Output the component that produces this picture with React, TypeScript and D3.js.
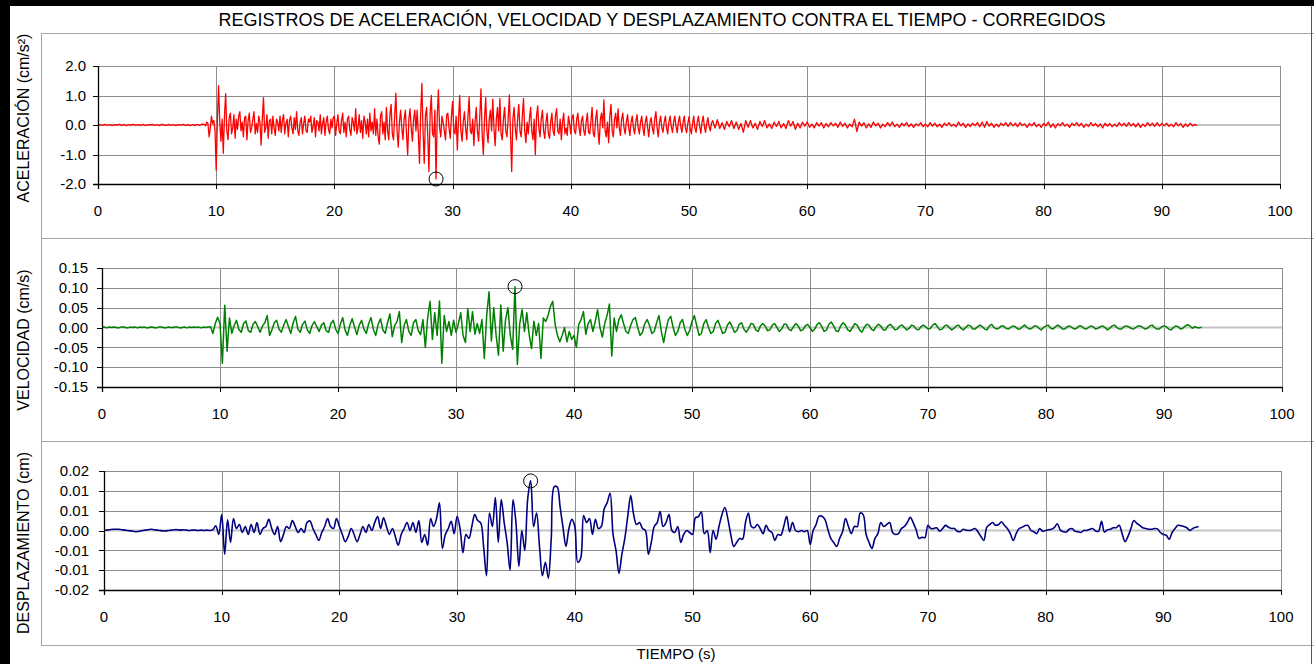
import React from 'react';
import * as d3 from 'd3';

const TITLE = 'REGISTROS DE ACELERACIÓN, VELOCIDAD Y DESPLAZAMIENTO CONTRA EL TIEMPO - CORREGIDOS';
const X_TITLE = 'TIEMPO (s)';
const X_TICKS = [0, 10, 20, 30, 40, 50, 60, 70, 80, 90, 100];
const X_TICK_LABELS = ['0', '10', '20', '30', '40', '50', '60', '70', '80', '90', '100'];

// Acceleration (cm/s²): pre-event, every 0.2 s from t = 0 s
const ACC_QUIET_T0 = 0;
const ACC_QUIET_DT = 0.2;
const accQuiet = [
  0, 0.01, -0.01, 0.02, -0.01,
  0.01, -0.02, 0.01, 0, 0.02,
  -0.01, 0.01, -0.02, 0.01, 0,
  0.02, -0.01, 0.01, -0.01, 0.02,
  -0.02, 0.01, 0, 0.02, -0.01,
  0.01, -0.02, 0.02, 0, -0.01,
  0.02, -0.01, 0.01, -0.02, 0.01,
  0, 0.02, -0.01, 0.01, -0.02,
  0.01, -0.01, 0.02, -0.01, 0.03,
];

// Acceleration (cm/s²): strong motion, every 0.1 s from t = 9 s
const ACC_STRONG_T0 = 9;
const ACC_STRONG_DT = 0.1;
const accStrong = [
  0.02, -0.03, 0.1, 0.05, -0.4, -0.1, 0.3, 0.05, 0.15, -0.2,
  -1.53, 0.2, 1.33, 0.1, -0.55, 0.2, -0.96, 0.3, 1.06, -0.2,
  -0.5, 0.25, 0.4, -0.3, -0.1, 0.35, -0.45, 0.2, -0.15, 0.3,
  0.45, -0.2, 0.1, -0.4, 0.25, 0.3, -0.5, 0.15, 0.4, -0.25,
  -0.1, 0.2, 0.45, -0.3, 0.05, -0.25, 0.3, 0.1, -0.68, 0.2,
  0.93, -0.25, -0.1, 0.35, -0.45, 0.15, 0.2, -0.3, 0.3, -0.1,
  -0.35, 0.2, 0.1, -0.2, 0.3, -0.25, 0.15, 0.35, -0.3, 0.05,
  0.2, -0.4, 0.15, 0.3, -0.1, -0.3, 0.25, -0.15, 0.45, -0.2,
  -0.35, 0.1, 0.25, -0.3, 0.05, 0.3, -0.2, -0.25, 0.2, 0.1,
  0.3, -0.25, -0.05, 0.25, -0.4, 0.15, 0.1, -0.2, 0.35, -0.3,
  0.05, 0.25, -0.35, 0.1, 0.3, -0.15, -0.3, 0.2, -0.1, 0.25,
  0.3, -0.35, 0.05, 0.35, -0.2, -0.3, 0.15, 0.4, -0.25, 0.1,
  -0.4, 0.2, 0.3, -0.15, -0.35, 0.25, 0.1, -0.2, 0.55, -0.3,
  -0.1, 0.35, -0.25, 0.15, -0.45, 0.3, 0.1, -0.3, 0.2, -0.4,
  0.4, -0.2, 0.1, -0.3, 0.55, -0.35, 0.2, -0.4, -0.65, 0.3,
  0.45, -0.3, 0.1, -0.5, 0.6, -0.2, -0.5, 0.35, 0.7, -0.3,
  -0.5, 0.3, 1.08, -0.2, -0.75, 0.1, 0.5, -0.1, -0.5, 0.2,
  0.5, -0.3, -1.02, 0.2, 0.55, -0.1, -0.55, 0.2, 0.5, -0.2,
  0.5, -0.3, -1.3, 0.4, 1.41, -0.2, -1.3, 0.3, 0.6, -0.4,
  -1.58, 0.4, 1.0, -0.3, -0.4, 0.5, -1.83, 0.3, 1.19, -0.1,
  -0.4, 0.3, 0.1, -0.2, -0.5, 0.35, 0.4, -0.1, -0.45, 0.3,
  0.8, -0.2, -0.3, 0.3, -0.85, 0.2, 1.0, -0.2, -0.55, 0.1,
  0.45, -0.1, -0.5, 0.3, 0.95, -0.2, -0.3, 0.2, -0.7, 0.1,
  0.6, -0.2, -0.55, 0.3, 1.22, -0.3, -1.0, 0.2, 0.93, -0.2,
  -0.6, 0.2, 0.5, -0.2, 0.88, -0.1, -0.7, 0.2, 0.6, -0.2,
  0.9, -0.3, -0.5, 0.2, 0.6, -0.2, -0.4, 0.2, 1.02, -0.3,
  -1.58, 0.2, 0.6, -0.1, -0.5, 0.2, 0.7, -0.2, -0.4, 0.3,
  0.9, -0.2, -0.6, 0.1, -0.3, 0.2, 0.6, -0.2, -0.5, 0.2,
  -1.0, 0.3, 0.65, -0.1, -0.4, 0.2, 0.5, -0.2, -0.45, 0.1,
  0.4, -0.3, -0.45, 0.1, 0.4, -0.2, -0.35, 0.3, 0.55, -0.2,
  -0.3, 0.2, -0.5, 0.1, 0.4, -0.3, -0.1, -0.35, 0.3, 0.05,
  -0.3, 0.25, 0.35, -0.2, -0.3, 0.2, 0.4, -0.1, -0.35, 0.15,
  0.3, -0.2, -0.35, 0.1, 0.4, -0.25, -0.3, 0.1, 0.6, -0.3,
  -0.4, 0.2, 0.5, -0.2, -0.65, 0.2, 0.4, -0.1, 0.85, -0.2,
  -0.4, 0.1, -0.6, 0.3, 0.7, -0.2, -0.4, 0.2, 0.4, -0.1,
  0.55, -0.1, -0.35, 0.2, 0.4, -0.1, -0.3, 0.1, 0.35, -0.1,
  -0.35, 0.1, 0.3, -0.1, -0.3, 0.1, 0.35, -0.1, -0.3, 0.1,
  0.3, -0.1, -0.35, 0.1, 0.3, -0.1, -0.4, 0.1, 0.25, -0.1,
  -0.3, 0.2, 0.45, -0.1, -0.4, 0.1, 0.3, -0.1, -0.25, 0.1,
  0.3, -0.1, -0.3, 0.1, 0.3, -0.05, -0.25, 0.1, 0.3, -0.05,
  -0.26, 0.1, 0.3, -0.05, -0.25, 0.1, 0.3, -0.1, -0.26, 0.05,
  0.28, -0.1, -0.3, 0.05, 0.3, -0.1, -0.25, 0.1, 0.3, -0.05,
  -0.28, 0.1, 0.3, -0.05, -0.25, 0.05, 0.25, -0.05, -0.2, 0.05,
];

// Acceleration (cm/s²): coda, every 0.2 s from t = 52 s
const ACC_CODA_T0 = 52;
const ACC_CODA_DT = 0.2;
const accCoda = [
  0.15, -0.1, 0.18, -0.12, 0.08,
  -0.15, 0.12, -0.06, 0.15, -0.12,
  0.1, -0.15, 0.05, -0.25, 0.15,
  -0.08, 0.15, -0.1, 0.06, -0.15,
  0.12, -0.05, 0.15, -0.1, 0.04,
  -0.12, 0.1, -0.05, 0.12, -0.1,
  0.05, -0.12, 0.15, -0.04, 0.12,
  -0.15, 0.06, -0.1, 0.1, -0.04,
  0.1, -0.08, 0.03, -0.1, 0.08,
  -0.04, 0.08, -0.1, 0.05, -0.06,
  0.08, -0.03, 0.06, -0.08, 0.1,
  -0.05, 0.06, -0.1, 0.03, -0.06,
  0.2, -0.22, 0.1, -0.04, 0.08,
  -0.1, 0.04, -0.08, 0.1, -0.03,
  0.06, -0.1, 0.03, -0.06, 0.08,
  -0.04, 0.1, -0.06, 0.03, -0.08,
  0.06, -0.03, 0.08, -0.06, 0.04,
  -0.08, 0.04, -0.03, 0.08, -0.06,
  0.03, -0.06, 0.08, -0.04, 0.06,
  -0.06, 0.03, -0.08, 0.06, -0.02,
  0.08, -0.04, 0.03, -0.06, 0.1,
  -0.03, 0.06, -0.08, 0.04, -0.05,
  0.06, -0.02, 0.08, -0.06, 0.1,
  -0.08, 0.12, -0.04, 0.06, -0.08,
  0.03, -0.06, 0.06, -0.02, 0.08,
  -0.05, 0.08, -0.03, 0.06, -0.06,
  0.08, -0.02, 0.04, -0.08, 0.05,
  -0.03, 0.08, -0.06, 0.03, -0.08,
  0.05, -0.03, 0.1, -0.08, 0.04,
  -0.1, 0.05, -0.03, 0.08, -0.04,
  0.03, -0.08, 0.06, -0.02, 0.08,
  -0.04, 0.06, -0.08, 0.03, -0.05,
  0.08, -0.03, 0.05, -0.06, 0.04,
  -0.1, 0.06, -0.04, 0.05, -0.06,
  0.03, -0.05, 0.08, -0.03, 0.06,
  -0.05, 0.08, -0.03, 0.05, -0.06,
  0.06, -0.08, 0.03, -0.05, 0.08,
  -0.03, 0.06, -0.05, 0.08, -0.04,
  0.05, -0.03, 0.06, -0.05, 0.03,
  -0.06, 0.08, -0.03, 0.05, -0.08,
  0.04, -0.05, 0.06, -0.03, 0.02,
  -0.02,
];

// Velocity (cm/s), every 0.2 s from t = 0 s
const VEL_T0 = 0;
const VEL_DT = 0.2;
const velValues = [
  0, 0.001, -0.001, 0.001, 0,
  0.001, 0, -0.001, 0.001, 0.001,
  0, -0.001, 0.001, 0, 0.001,
  -0.001, 0.001, 0, 0.001, -0.001,
  0, 0.001, 0, -0.001, 0.001,
  0.001, 0, -0.001, 0.001, 0,
  0, 0.001, 0.001, -0.001, 0,
  0.001, -0.001, 0.001, 0, 0.001,
  0, 0.001, -0.001, 0.001, 0,
  0.001, 0.002, -0.015, 0.01, 0.026,
  0.01, -0.09, 0.056, -0.06, 0.024,
  -0.015, 0.005, 0.018, -0.005, -0.012,
  0.01, 0.016, -0.008, -0.012, 0.008,
  0.015, 0.002, -0.012, 0.004, 0.012,
  0.03, -0.02, -0.006, 0.012, 0.018,
  -0.004, -0.012, 0.006, 0.02, 0.002,
  -0.015, 0.012, 0.028, -0.004, -0.012,
  0.008, 0.016, -0.006, -0.015, 0.005,
  0.015, 0.002, -0.01, 0.006, 0.012,
  -0.008, -0.012, 0.01, 0.018, -0.004,
  -0.015, 0.008, 0.025, -0.006, -0.02,
  0.005, 0.022, 0.002, -0.018, 0.006,
  0.018, -0.004, -0.015, 0.01, 0.025,
  -0.005, -0.02, 0.008, 0.022, -0.006,
  -0.015, 0.012, 0.034, -0.023, 0.005,
  0.015, 0.04, -0.038, 0.005, 0.02,
  -0.01, -0.02, 0.012, 0.02, -0.008,
  -0.018, 0.02, -0.05, 0.025, 0.066,
  -0.03, 0.037, -0.02, 0.067, -0.09,
  0.03, -0.01, 0.015, -0.02, 0.018,
  -0.012, 0.01, 0.037, -0.02, -0.038,
  0.048, -0.01, 0.04, -0.017, 0.01,
  -0.015, 0.02, -0.078, 0.03, 0.09,
  -0.034, 0.05, -0.02, -0.07, 0.057,
  -0.06, 0.02, 0.05, -0.02, -0.055,
  0.103, -0.093, 0.01, 0.045, -0.01,
  0.037, -0.018, -0.053, 0.016, -0.02,
  0.01, -0.078, 0.024, 0.015, 0.03,
  0.053, 0.066, 0.008, -0.02, -0.036,
  -0.02, 0.0, -0.036, -0.01, -0.03,
  -0.02, -0.05, 0.008, 0.02, 0.04,
  -0.017, 0.01, 0.02, -0.01, 0.015,
  0.045, 0.0, -0.024, 0.01, 0.03,
  0.059, -0.072, 0.024, -0.01, 0.02,
  0.032, 0.01, -0.01, -0.015, 0.005,
  0.02, 0.025, 0.0, -0.02, -0.012,
  0.01, 0.02, 0.005, -0.015, -0.01,
  0.012, 0.03, -0.01, -0.038, -0.005,
  0.02, 0.028, 0.0, -0.02, -0.01,
  0.012, 0.02, -0.005, -0.02, -0.008,
  0.015, 0.03, 0.005, -0.02, -0.015,
  0.01, 0.02, 0.0, -0.015, -0.01,
  0.01, 0.018, 0.002, -0.015, -0.012,
  0.006, 0.014, 0.002, -0.012, -0.008,
  0.008, 0.012, -0.004, -0.012, -0.002,
  0.01, 0.008, -0.006, -0.01, 0.004,
  0.01, 0.004, -0.008, -0.006, 0.006,
  0.01, 0.0, -0.01, -0.004, 0.008,
  0.008, -0.004, -0.008, 0.002, 0.01,
  0.004, -0.008, -0.006, 0.004, 0.008,
  0.0, -0.01, -0.004, 0.008, 0.012,
  0.002, -0.01, -0.006, 0.008, 0.014,
  0.004, -0.008, -0.01, 0.004, 0.012,
  0.006, -0.006, -0.01, 0.0, 0.01,
  0.006, -0.006, -0.012, 0.0, 0.008,
  0.006, -0.004, -0.008, 0.002, 0.008,
  0.004, -0.006, -0.006, 0.004, 0.008,
  0.002, -0.006, -0.004, 0.004, 0.006,
  0.0, -0.006, -0.002, 0.006, 0.004,
  -0.004, -0.006, 0.002, 0.006, 0.002,
  -0.004, -0.002, 0.006, 0.01, 0.002,
  -0.006, -0.004, 0.004, 0.006, 0.0,
  -0.006, -0.002, 0.004, 0.006, -0.002,
  -0.006, 0.0, 0.006, 0.004, -0.004,
  -0.004, 0.002, 0.006, 0.002, -0.004,
  -0.006, 0.004, 0.008, 0.0, -0.004,
  -0.002, 0.004, 0.004, -0.002, -0.004,
  0.0, 0.004, 0.002, -0.004, -0.004,
  0.002, 0.006, 0.0, -0.004, -0.002,
  0.004, 0.004, -0.002, -0.006, 0.0,
  0.004, 0.006, -0.002, -0.004, 0.002,
  0.006, 0.002, -0.004, -0.004, 0.002,
  0.004, 0.0, -0.004, -0.002, 0.004,
  0.004, -0.002, -0.004, 0.0, 0.004,
  0.002, -0.004, -0.002, 0.002, 0.004,
  0.0, -0.006, -0.002, 0.004, 0.006,
  0.0, -0.004, -0.004, 0.002, 0.004,
  0.002, -0.002, -0.004, 0.0, 0.004,
  0.004, 0.0, -0.004, -0.002, 0.004,
  0.006, 0.0, -0.004, -0.004, 0.002,
  0.004, 0.002, -0.004, -0.006, 0.0,
  0.004, 0.002, -0.004, -0.002, 0.004,
  0.007, 0.004, -0.002, 0.002, 0,
  -0.001, 0.001,
];

// Displacement (cm), every 0.25 s from t = 0 s
const DISP_T0 = 0;
const DISP_DT = 0.25;
const dispValues = [
  0, 0.0001, 0.0002, 0.0003,
  0.0003, 0.0003, 0.0002, 0.0001,
  0, -0.0001, -0.0002, -0.0003,
  -0.0002, 0, 0.0001, 0.0002,
  0.0003, 0.0002, 0.0001, 0,
  -0.0001, -0.0001, 0, 0.0001,
  0.0002, 0.0002, 0.0001, 0.0002,
  0.0001, 0, 0.0001, 0.0001,
  0, 0.0001, 0, 0.0001,
  0, 0.0002, 0.0012, -0.001,
  0.004, -0.006, 0.0027, -0.003,
  0.003, 0.0005, 0.0015, -0.0005,
  0.001, -0.001, 0.0015, -0.0005,
  0.002, -0.001, 0.0005, 0.001,
  0.0028, 0.0005, -0.001, 0.001,
  -0.0028, -0.001, 0.001, 0.0005,
  0.0025, 0.001, -0.0005, 0.0005,
  -0.0005, 0.002, 0.0024, 0.0005,
  -0.001, -0.0025, -0.0005, 0.001,
  0.003, 0.001, 0.0005, 0.003,
  0.001, -0.001, -0.0028, -0.0015,
  0.0005, -0.001, -0.0028, -0.001,
  0.001, -0.0005, 0.0015, 0,
  0.002, 0.0035, 0.0005, 0.0032,
  0.001, -0.001, 0.0005, -0.0015,
  -0.0037, -0.001, 0.0005, 0.002,
  0, 0.002, -0.0005, 0.0025,
  -0.003, -0.001, -0.0037, 0.003,
  0.001, 0.003, 0.007, -0.0045,
  -0.001, 0.0005, 0.0023, -0.0008,
  0.0036, 0.0005, -0.0056, -0.001,
  -0.002, 0.001, 0.004, 0.0025,
  0.002, -0.004, -0.0114, 0.0044,
  0.001, 0.0083, -0.003, 0.0078,
  0.002, -0.003, -0.01, 0.0078,
  0.002, -0.009, 0, -0.005,
  0.008, 0.0125, 0.001, 0.0044,
  -0.004, -0.0114, -0.008, -0.012,
  -0.002, 0.011, 0.011, 0.006,
  0.0007, -0.004, 0.0005, 0.0028,
  0.001, -0.008, -0.007, 0.0038,
  0.002, 0.003, -0.001, 0.0028,
  0.0005, 0.001, 0.0055, 0.007,
  0.0094, -0.001, -0.005, -0.0108,
  -0.006, -0.002, 0.0036, 0.0088,
  0.004, 0.0015, 0.002, 0.0005,
  0, -0.006, -0.003, 0.001,
  0.002, 0.0048, 0.001, 0.002,
  0.004, 0, -0.0005, 0.001,
  -0.003, -0.001, 0, -0.0005,
  -0.001, 0.0032, 0.0035, 0.0047,
  -0.0008, 0, -0.0056, 0,
  -0.0022, 0.001, 0.004, 0.0058,
  0.003, -0.001, -0.004, -0.003,
  -0.002, -0.0022, 0.002, 0.0044,
  0.001, 0.0007, 0.0015, 0.0005,
  -0.0008, 0.0013, 0, -0.0005,
  -0.0025, -0.001, -0.0012, 0.001,
  0.0036, -0.0003, 0.002, 0,
  -0.0003, 0, -0.0003, 0,
  -0.0035, 0, 0.0015, 0.0036,
  0.0036, 0.0028, 0.0003, -0.002,
  -0.003, -0.004, -0.002, -0.0003,
  0.003, 0.001, -0.0008, 0.001,
  0.001, 0.0044, 0.004, -0.001,
  -0.003, -0.0045, -0.002, -0.0008,
  0.002, 0.001, 0.0015, 0.002,
  -0.0005, -0.001, -0.0008, 0.0005,
  0.001, 0.002, 0.0033, 0.002,
  0.0002, -0.002, -0.0017, -0.0018,
  0.0013, 0.0005, 0.0005, 0.0007,
  -0.0002, 0.0005, 0.0013, 0.0008,
  0.0005, 0.0005, -0.0002, -0.0003,
  0.0003, 0.0001, 0, 0.0002,
  0.0005, -0.0003, -0.0015, -0.0025,
  0.0008, 0.0015, 0.002, 0.0013,
  0.0015, 0.0022, 0.0013, 0.0005,
  -0.0008, -0.0025, -0.0008, 0.0005,
  0.0008, 0.0012, 0.0013, 0,
  -0.0003, -0.0008, 0.0005, -0.0002,
  0, 0.0002, 0.0003, 0.0008,
  0.0017, 0.0001, -0.0003, -0.0004,
  0.0003, 0.0005, -0.0002, -0.0003,
  -0.0005, 0, 0, 0.0003,
  0.0005, -0.0001, -0.0002, 0.0023,
  -0.0004, 0.0002, 0.0003, 0.0007,
  0.0007, 0.0013, -0.0008, -0.0028,
  -0.0015, 0.0005, 0.0025, 0.0018,
  0.0013, 0.0007, 0.0005, 0.0003,
  0.0003, 0.0005, 0.0004, -0.0005,
  -0.001, -0.0012, -0.0022, -0.0005,
  0.0005, 0.0013, 0.0012, 0.001,
  0.0007, 0, 0.0005, 0.0008,
  0.001,
];

const ACC_TICKS = [-2, -1, 0, 1, 2];
const ACC_TICK_LABELS = ['-2.0', '-1.0', '0.0', '1.0', '2.0'];
const VEL_TICKS = [-0.15, -0.1, -0.05, 0, 0.05, 0.1, 0.15];
const VEL_TICK_LABELS = ['-0.15', '-0.10', '-0.05', '0.00', '0.05', '0.10', '0.15'];
const DISP_TICKS = [-0.015, -0.01, -0.005, 0, 0.005, 0.01, 0.015];
const DISP_TICK_LABELS = ['-0.02', '-0.01', '-0.01', '0.00', '0.01', '0.01', '0.02'];

const FONT = '"Liberation Sans", Arial, Helvetica, sans-serif';
const W = 1314;
const H = 664;

type Pt = [number, number];

function toPoints(t0: number, dt: number, vals: number[]): Pt[] {
  return vals.map((v, i) => [t0 + i * dt, v] as Pt);
}

interface PanelProps {
  left: number;
  right: number;
  top: number;
  bottom: number;
  ticks: number[];
  tickLabels: string[];
  data: Pt[];
  color: string;
  width: number;
  smooth: boolean;
  yTitle: string;
  yTitleY: number;
  tickLabelRight: number;
}

function Panel(p: PanelProps) {
  const x = d3.scaleLinear().domain([0, 100]).range([p.left, p.right]);
  const y = d3
    .scaleLinear()
    .domain([p.ticks[0], p.ticks[p.ticks.length - 1]])
    .range([p.bottom, p.top]);
  const line = d3
    .line<Pt>()
    .x((d) => x(d[0]))
    .y((d) => y(d[1]))
    .curve(p.smooth ? d3.curveCatmullRom.alpha(0.5) : d3.curveLinear);
  const peakIdx = d3.maxIndex(p.data, (d) => Math.abs(d[1]));
  const peak = p.data[peakIdx];
  const grid = '#8c8c8c';
  const snap = (v: number) => Math.round(v) + 0.5;
  return (
    <g>
      {p.ticks.map((t, i) =>
        t === 0 ? null : (
          <line key={'h' + i} x1={p.left} x2={p.right} y1={snap(y(t))} y2={snap(y(t))} stroke={grid} strokeWidth={1} />
        )
      )}
      {X_TICKS.map((t, i) =>
        t === 0 ? null : (
          <line key={'v' + i} x1={snap(x(t))} x2={snap(x(t))} y1={p.top} y2={p.bottom} stroke={grid} strokeWidth={1} />
        )
      )}
      <line x1={p.left} x2={p.right} y1={y(0)} y2={y(0)} stroke="#c4c4c4" strokeWidth={2} />
      <path d={line(p.data) || ''} fill="none" stroke={p.color} strokeWidth={p.width} strokeLinejoin="round" />
      <line x1={p.left + 0.5} x2={p.left + 0.5} y1={p.top} y2={p.bottom + 5} stroke="#000" strokeWidth={1.3} />
      <line x1={p.left - 5} x2={p.right} y1={snap(p.bottom)} y2={snap(p.bottom)} stroke="#000" strokeWidth={1.3} />
      {p.ticks.map((t, i) => (
        <line key={'yt' + i} x1={p.left - 5} x2={p.left} y1={snap(y(t))} y2={snap(y(t))} stroke="#000" strokeWidth={1} />
      ))}
      {X_TICKS.map((t, i) => (
        <line key={'xt' + i} x1={snap(x(t))} x2={snap(x(t))} y1={p.bottom} y2={p.bottom + 5} stroke="#000" strokeWidth={1} />
      ))}
      {p.ticks.map((t, i) => (
        <text
          key={'yl' + i}
          x={p.tickLabelRight}
          y={y(t)}
          dy="0.35em"
          textAnchor="end"
          fontSize={15}
          fontFamily={FONT}
          fill="#000"
        >
          {p.tickLabels[i]}
        </text>
      ))}
      {X_TICKS.map((t, i) => (
        <text
          key={'xl' + i}
          x={x(t)}
          y={p.bottom + 27}
          dy="0.35em"
          textAnchor="middle"
          fontSize={15}
          fontFamily={FONT}
          fill="#000"
        >
          {X_TICK_LABELS[i]}
        </text>
      ))}
      <circle cx={x(peak[0])} cy={y(peak[1])} r={7} fill="none" stroke="#000" strokeWidth={1} />
      <text
        transform={`translate(23,${p.yTitleY}) rotate(-90)`}
        textAnchor="middle"
        dy="0.35em"
        fontSize={16}
        fontFamily={FONT}
        fill="#000"
      >
        {p.yTitle}
      </text>
    </g>
  );
}

export default function App() {
  const acc = [
    ...toPoints(ACC_QUIET_T0, ACC_QUIET_DT, accQuiet),
    ...toPoints(ACC_STRONG_T0, ACC_STRONG_DT, accStrong),
    ...toPoints(ACC_CODA_T0, ACC_CODA_DT, accCoda),
  ];
  const vel = toPoints(VEL_T0, VEL_DT, velValues);
  const disp = toPoints(DISP_T0, DISP_DT, dispValues);
  const frame = '#a6a6a6';
  return (
    <svg
      width={W}
      height={H}
      viewBox={`0 0 ${W} ${H}`}
      style={{ position: 'absolute', left: 0, top: 0, background: '#fff' }}
    >
      <rect x={0} y={0} width={W} height={H} fill="#fff" />
      <line x1={41} x2={W} y1={33.5} y2={33.5} stroke={frame} strokeWidth={1} />
      <line x1={41.5} x2={41.5} y1={33} y2={645} stroke={frame} strokeWidth={1} />
      <line x1={41} x2={W} y1={238.5} y2={238.5} stroke={frame} strokeWidth={1} />
      <line x1={41} x2={W} y1={441.5} y2={441.5} stroke={frame} strokeWidth={1} />
      <line x1={41} x2={W} y1={645.5} y2={645.5} stroke={frame} strokeWidth={1} />
      <line x1={1311.5} x2={1311.5} y1={0} y2={H} stroke="#555" strokeWidth={1} />
      <rect x={0} y={0} width={W} height={6} fill="#000" />
      <rect x={0} y={0} width={10} height={H} fill="#000" />
      <text x={662} y={20} dy="0.35em" textAnchor="middle" fontSize={18} fontFamily={FONT} fill="#000">
        {TITLE}
      </text>
      <Panel
        left={98}
        right={1280}
        top={66}
        bottom={184}
        ticks={ACC_TICKS}
        tickLabels={ACC_TICK_LABELS}
        data={acc}
        color="#ff0000"
        width={1.3}
        smooth={false}
        yTitle="ACELERACIÓN (cm/s²)"
        yTitleY={118}
        tickLabelRight={86}
      />
      <Panel
        left={102}
        right={1282}
        top={268}
        bottom={387}
        ticks={VEL_TICKS}
        tickLabels={VEL_TICK_LABELS}
        data={vel}
        color="#008000"
        width={1.5}
        smooth={false}
        yTitle="VELOCIDAD (cm/s)"
        yTitleY={340}
        tickLabelRight={88}
      />
      <Panel
        left={104}
        right={1281}
        top={471}
        bottom={590}
        ticks={DISP_TICKS}
        tickLabels={DISP_TICK_LABELS}
        data={disp}
        color="#000080"
        width={1.6}
        smooth={true}
        yTitle="DESPLAZAMIENTO (cm)"
        yTitleY={543}
        tickLabelRight={89}
      />
      <text x={676} y={654} dy="0.35em" textAnchor="middle" fontSize={15} fontFamily={FONT} fill="#000">
        {X_TITLE}
      </text>
    </svg>
  );
}
